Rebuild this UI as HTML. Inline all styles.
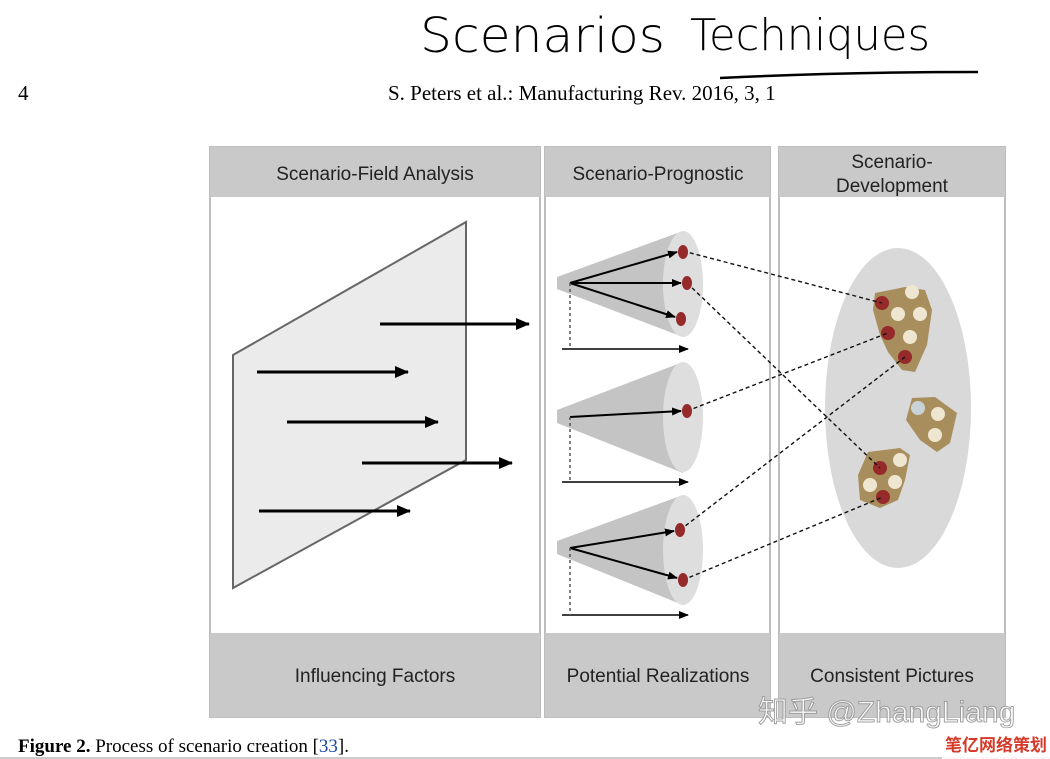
<!DOCTYPE html>
<html><head><meta charset="utf-8">
<style>
html,body{margin:0;padding:0;background:#fff;}
svg{display:block;}
.sans{font-family:"Liberation Sans",sans-serif;}
.serif{font-family:"Liberation Serif",serif;}
</style></head>
<body>
<svg width="1050" height="759" viewBox="0 0 1050 759" xmlns="http://www.w3.org/2000/svg">
<defs>
<marker id="ah" markerWidth="10" markerHeight="8" refX="9" refY="4" orient="auto" markerUnits="userSpaceOnUse">
<path d="M0,0 L10,4 L0,8 z" fill="#000"/></marker>
<marker id="ah2" markerWidth="14" markerHeight="12" refX="13" refY="6" orient="auto" markerUnits="userSpaceOnUse">
<path d="M0,0 L14,6 L0,12 z" fill="#000"/></marker>
</defs>

<text x="420" y="52" font-family="DejaVu Sans" font-size="48" fill="#000" textLength="245" lengthAdjust="spacingAndGlyphs" style="font-weight:100">Scenarios</text>
<text x="690" y="50" font-family="DejaVu Sans" font-size="44" fill="#000" textLength="240" lengthAdjust="spacingAndGlyphs" style="font-weight:100">Techniques</text>
<path d="M720,78 C800,74 900,72 978,72" stroke="#000" stroke-width="2.5" fill="none"/>

<text x="18" y="100" class="serif" font-size="21">4</text>
<text x="388" y="100" class="serif" font-size="21">S. Peters et al.: Manufacturing Rev. 2016, 3, 1</text>

<g stroke="#bdbdbd" stroke-width="2" fill="#fff">
<rect x="210" y="147" width="330" height="570"/>
<rect x="545" y="147" width="225" height="570"/>
<rect x="779" y="147" width="226" height="570"/>
</g>
<g fill="#c9c9c9">
<rect x="210" y="147" width="330" height="50"/>
<rect x="545" y="147" width="225" height="50"/>
<rect x="779" y="147" width="226" height="50"/>
<rect x="210" y="633" width="330" height="84"/>
<rect x="545" y="633" width="225" height="84"/>
<rect x="779" y="633" width="226" height="84"/>
</g>
<g class="sans" font-size="19" fill="#222" text-anchor="middle">
<text x="375" y="180">Scenario-Field Analysis</text>
<text x="658" y="180">Scenario-Prognostic</text>
<text x="892" y="168">Scenario-</text>
<text x="892" y="192">Development</text>
<text x="375" y="682">Influencing Factors</text>
<text x="658" y="682">Potential Realizations</text>
<text x="892" y="682">Consistent Pictures</text>
</g>

<polygon points="233,355 466,222 466,460 233,588" fill="#ebebeb" stroke="#666" stroke-width="2"/>
<g stroke="#000" stroke-width="3" marker-end="url(#ah2)">
<line x1="380" y1="324" x2="529" y2="324"/>
<line x1="257" y1="372" x2="408" y2="372"/>
<line x1="287" y1="422" x2="438" y2="422"/>
<line x1="362" y1="463" x2="512" y2="463"/>
<line x1="259" y1="511" x2="410" y2="511"/>
</g>

<g>
<polygon points="557,277 683,231 683,337 557,289" fill="#c4c4c4"/>
<ellipse cx="683" cy="284" rx="20" ry="53" fill="#dedede"/>
<polygon points="557,410 683,362 683,473 557,423" fill="#c4c4c4"/>
<ellipse cx="683" cy="417" rx="20" ry="55" fill="#dedede"/>
<polygon points="557,541 683,495 683,605 557,554" fill="#c4c4c4"/>
<ellipse cx="683" cy="550" rx="20" ry="55" fill="#dedede"/>
</g>
<g stroke="#000" stroke-width="2" marker-end="url(#ah)">
<line x1="570" y1="283" x2="677" y2="252"/>
<line x1="570" y1="283" x2="681" y2="283"/>
<line x1="570" y1="283" x2="675" y2="317"/>
<line x1="570" y1="417" x2="681" y2="411"/>
<line x1="570" y1="548" x2="674" y2="531"/>
<line x1="570" y1="548" x2="677" y2="578"/>
</g>
<g stroke="#000" stroke-width="1.5" marker-end="url(#ah)">
<line x1="562" y1="349" x2="688" y2="349"/>
<line x1="562" y1="482" x2="688" y2="482"/>
<line x1="562" y1="615" x2="688" y2="615"/>
</g>
<g stroke="#555" stroke-width="1.5" stroke-dasharray="3,3">
<line x1="570" y1="283" x2="570" y2="349"/>
<line x1="570" y1="417" x2="570" y2="482"/>
<line x1="570" y1="548" x2="570" y2="615"/>
</g>

<ellipse cx="898" cy="408" rx="73" ry="160" fill="#d9d9d9"/>
<g fill="#a88e5c">
<path d="M875,293 L905,287 L925,290 L932,310 L927,345 L915,372 L902,370 L888,352 L880,335 L873,310 z"/>
<path d="M912,398 L935,397 L957,413 L950,443 L937,452 L920,440 L906,420 z"/>
<path d="M868,452 L900,448 L910,455 L905,480 L898,500 L880,508 L860,500 L858,475 z"/>
</g>
<g fill="#efe6d2">
<circle cx="912" cy="292" r="7"/><circle cx="898" cy="314" r="7"/><circle cx="920" cy="314" r="7"/><circle cx="910" cy="337" r="7"/>
<circle cx="938" cy="414" r="7"/><circle cx="935" cy="435" r="7"/>
<circle cx="900" cy="460" r="7"/><circle cx="870" cy="485" r="7"/><circle cx="895" cy="482" r="7"/>
</g>
<circle cx="918" cy="408" r="7" fill="#c9d3d6"/>
<g fill="#962a2a">
<circle cx="882" cy="303" r="7"/><circle cx="888" cy="333" r="7"/><circle cx="905" cy="357" r="7"/>
<circle cx="880" cy="468" r="7"/><circle cx="883" cy="497" r="7"/>
</g>

<g stroke="#111" stroke-width="1.4" stroke-dasharray="4,3">
<line x1="683" y1="251" x2="882" y2="303"/>
<line x1="687" y1="283" x2="880" y2="468"/>
<line x1="687" y1="411" x2="888" y2="333"/>
<line x1="680" y1="530" x2="905" y2="357"/>
<line x1="683" y1="580" x2="883" y2="497"/>
</g>
<g fill="#962a2a">
<ellipse cx="683" cy="252" rx="5" ry="7"/>
<ellipse cx="687" cy="283" rx="5" ry="7"/>
<ellipse cx="681" cy="319" rx="5" ry="7"/>
<ellipse cx="687" cy="411" rx="5" ry="7"/>
<ellipse cx="680" cy="530" rx="5" ry="7"/>
<ellipse cx="683" cy="580" rx="5" ry="7"/>
</g>

<text x="758" y="722" font-family="Liberation Sans, Noto Sans CJK SC, sans-serif" font-size="30" fill="#fff" stroke="#999" stroke-width="1" opacity="0.9">知乎 @ZhangLiang</text>

<text x="18" y="752" class="serif" font-size="19"><tspan font-weight="bold">Figure 2.</tspan> Process of scenario creation [<tspan fill="#1a4aa0">33</tspan>].</text>
<line x1="0" y1="758" x2="1050" y2="758" stroke="#999" stroke-width="1"/>
<rect x="942" y="728" width="108" height="31" fill="#fff" opacity="0.85"/>
<text x="945" y="751" font-family="Noto Sans CJK SC, sans-serif" font-size="17" font-weight="bold" fill="#d63a2a">笔亿网络策划</text>
</svg>
</body></html>
